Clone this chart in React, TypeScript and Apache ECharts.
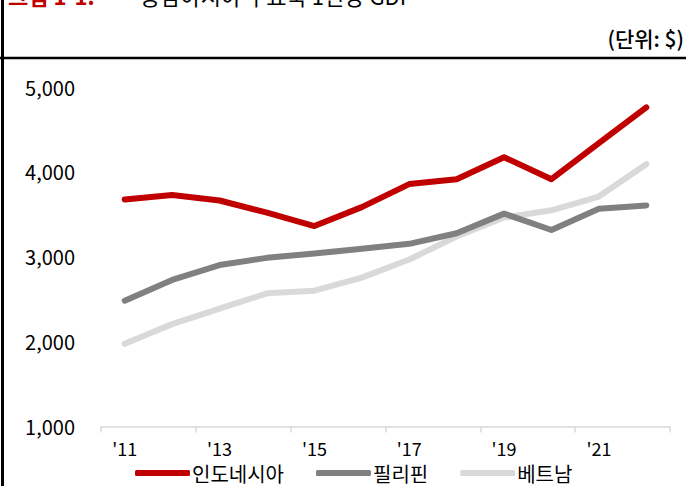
import React, { useEffect, useRef } from "react";
import * as echarts from "echarts";

const categories = ["'11", "'12", "'13", "'14", "'15", "'16", "'17", "'18", "'19", "'20", "'21", "'22"];
const indonesia = [3675, 3728, 3663, 3520, 3362, 3585, 3856, 3914, 4173, 3914, 4339, 4760];
const philippines = [2483, 2727, 2902, 2987, 3037, 3095, 3152, 3277, 3508, 3315, 3566, 3605];
const vietnam = [1974, 2206, 2388, 2569, 2600, 2754, 2967, 3238, 3462, 3547, 3709, 4090];
const seriesNames = ["인도네시아", "필리핀", "베트남"];
const colors = ["#c00000", "#808080", "#d9d9d9"];
const yTicks = { min: 1000, max: 5000, interval: 1000 };

const FONT = "'Noto Sans CJK KR', 'Noto Sans', sans-serif";

export default function App() {
  const ref = useRef<HTMLDivElement>(null);
  useEffect(() => {
    if (!ref.current) return;
    const chart = echarts.init(ref.current, undefined, { renderer: "svg" });
    const data = [indonesia, philippines, vietnam];
    chart.setOption({
      animation: false,
      backgroundColor: "#ffffff",
      textStyle: { fontFamily: FONT },
      grid: { left: 101, right: 16, top: 87, bottom: 59.5 },
      xAxis: {
        type: "category",
        data: categories,
        boundaryGap: true,
        axisLine: { show: true, lineStyle: { color: "#d9d9d9", width: 1.5 } },
        axisTick: { show: true, interval: 1, length: 6, inside: false, lineStyle: { color: "#d9d9d9", width: 1.5 } },
        axisLabel: { interval: 1, color: "#000", fontSize: 18, fontFamily: FONT, margin: 12 },
        splitLine: { show: false },
      },
      yAxis: {
        type: "value",
        min: yTicks.min,
        max: yTicks.max,
        interval: yTicks.interval,
        axisLine: { show: false },
        axisTick: { show: false },
        splitLine: { show: false },
        axisLabel: {
          color: "#000",
          fontSize: 20,
          fontFamily: FONT,
          margin: 26,
          formatter: (v: number) => v.toLocaleString("en-US"),
        },
      },
      legend: {
        show: true,
        bottom: -2,
        left: 130,
        itemWidth: 55,
        itemHeight: 6,
        itemGap: 32,
        icon: "roundRect",
        textStyle: { color: "#000", fontSize: 20, fontFamily: FONT, padding: [0, 0, 0, -3] },
        data: seriesNames,
      },
      series: seriesNames.map((name, i) => ({
        name,
        type: "line",
        data: data[i],
        symbol: "none",
        lineStyle: { color: colors[i], width: 6, cap: "round", join: "round" },
        itemStyle: { color: colors[i] },
        z: 3 - i,
      })),
      graphic: [
        { type: "line", shape: { x1: 2.5, y1: 0, x2: 2.5, y2: 486 }, style: { stroke: "#000", lineWidth: 3 } },
        { type: "line", shape: { x1: 0, y1: 58, x2: 686, y2: 58 }, style: { stroke: "#000", lineWidth: 2.5 } },
        {
          type: "text",
          x: 8,
          y: 6,
          style: { text: "그림 1-1.", fill: "#c00000", font: `bold 22px ${FONT}`, textVerticalAlign: "bottom" },
        },
        {
          type: "text",
          x: 140,
          y: 6,
          style: { text: "동남아시아 주요국 1인당 GDP", fill: "#000", font: `22px ${FONT}`, textVerticalAlign: "bottom" },
        },
        {
          type: "text",
          x: 684,
          y: 38,
          style: { text: "(단위: $)", fill: "#000", font: `500 21px ${FONT}`, textAlign: "right", textVerticalAlign: "middle" },
        },
      ],
    });
    return () => chart.dispose();
  }, []);
  return <div ref={ref} style={{ width: 686, height: 486, position: "absolute", left: 0, top: 0 }} />;
}
